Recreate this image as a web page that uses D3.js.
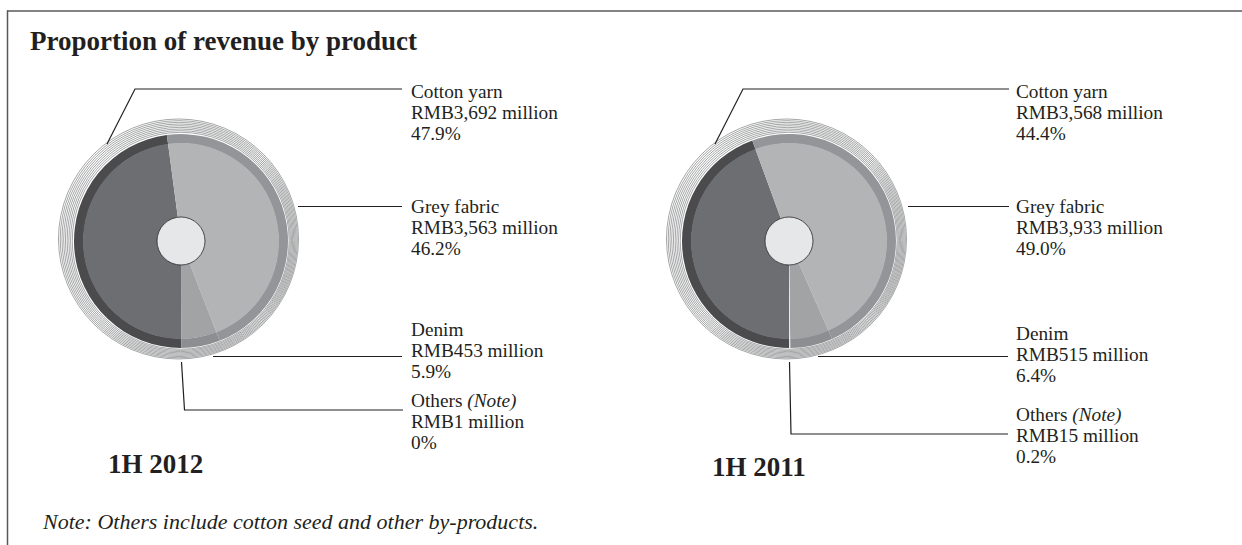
<!DOCTYPE html>
<html>
<head>
<meta charset="utf-8">
<script src="https://cdn.jsdelivr.net/npm/d3@7"></script>
<style>
  html, body { margin: 0; padding: 0; background: #ffffff; }
  svg { display: block; }
  text { font-family: "Liberation Serif", "Times New Roman", serif; fill: #231f20; }
</style>
</head>
<body>
<svg id="chart" width="1242" height="545"></svg>
<script>
// ---------------- DATA ----------------
const title = "Proportion of revenue by product";
const categories = ["Cotton yarn", "Grey fabric", "Denim", "Others"];
const revenue2012 = [3692, 3563, 453, 1];        // RMB million
const revenue2011 = [3568, 3933, 515, 15];       // RMB million
const share2012 = ["47.9%", "46.2%", "5.9%", "0%"];
const share2011 = ["44.4%", "49.0%", "6.4%", "0.2%"];
const periods = ["1H 2012", "1H 2011"];
const noteText = "Note: Others include cotton seed and other by-products.";

// ---------------- STYLE ----------------
const innerFill = ["#6d6e71", "#b3b4b6", "#a2a3a5", "#e8e8e9"];
const bandFill  = ["#4b4b4d", "#949598", "#8d8e91", "#e8e8e9"];
const ink = "#231f20";

const svg = d3.select("#chart");

// frame
svg.append("line").attr("x1", 7).attr("y1", 11).attr("x2", 1242).attr("y2", 11)
  .attr("stroke", "#58595b").attr("stroke-width", 1.5);
svg.append("line").attr("x1", 7.5).attr("y1", 10.5).attr("x2", 7.5).attr("y2", 545)
  .attr("stroke", "#58595b").attr("stroke-width", 1.5);

svg.append("text").attr("x", 30).attr("y", 50)
  .attr("font-size", 27).attr("font-weight", "bold").text(title);

svg.append("text").attr("x", 43).attr("y", 529)
  .attr("font-size", 22).attr("font-style", "italic").text(noteText);

// ---------------- LAYOUT ----------------
const charts = [
  {
    values: revenue2012, shares: share2012, period: periods[0],
    cx: 181, cy: 241, labelX: 411, periodX: 108, periodY: 473,
    baselines: [98, 213, 336, 407],
    leaders: [
      [[107, 144], [135, 89], [402, 89]],
      [[298, 206.5], [402, 206.5]],
      [[213, 356.5], [402, 356.5]],
      [[181.5, 362], [184.5, 410], [403, 410]]
    ]
  },
  {
    values: revenue2011, shares: share2011, period: periods[1],
    cx: 789, cy: 241, labelX: 1016, periodX: 712, periodY: 476,
    baselines: [98, 213, 340, 421],
    leaders: [
      [[715, 144], [743, 89], [1009, 89]],
      [[908, 206.5], [1009, 206.5]],
      [[818, 356.5], [1008, 356.5]],
      [[789.5, 362], [791, 434], [1008, 434]]
    ]
  }
];

const rHole = 24, rInner = 98, rOuter = 107, rRing = 120;
const pie = d3.pie().sort(null).startAngle(Math.PI).endAngle(3 * Math.PI).value(d => d);
const arcInner = d3.arc().innerRadius(rHole).outerRadius(rInner);
const arcBand = d3.arc().innerRadius(rInner - 0.5).outerRadius(rOuter);
const fmt = d3.format(",");
const lineGen = d3.line();

charts.forEach(c => {
  const g = svg.append("g");

  // striped outer ring (concentric hairlines, slightly offset up-left)
  const nRings = 9;
  const ringG = g.append("g");
  ringG.append("circle")
    .attr("cx", c.cx - 2.5).attr("cy", c.cy - 2).attr("r", rRing)
    .attr("fill", "#ffffff");
  d3.range(nRings).forEach(i => {
    const t = (i + 1) / nRings;
    ringG.append("circle")
      .attr("cx", c.cx - 2.5 * t).attr("cy", c.cy - 2 * t)
      .attr("r", rOuter + (rRing - rOuter) * t)
      .attr("fill", "none").attr("stroke", "#5a5b5d").attr("stroke-width", 0.55);
  });

  const pg = g.append("g").attr("transform", `translate(${c.cx},${c.cy})`);
  const arcs = pie(c.values);
  pg.selectAll("path.band").data(arcs).join("path")
    .attr("class", "band").attr("d", arcBand)
    .attr("fill", (d, i) => bandFill[i]);
  pg.selectAll("path.inner").data(arcs).join("path")
    .attr("class", "inner").attr("d", arcInner)
    .attr("fill", (d, i) => innerFill[i]);
  pg.append("circle").attr("r", rHole)
    .attr("fill", "#e6e7e8").attr("stroke", ink).attr("stroke-width", 0.8);

  // leader lines
  c.leaders.forEach(pts => {
    g.append("path").attr("d", lineGen(pts))
      .attr("fill", "none").attr("stroke", ink).attr("stroke-width", 1.2);
  });

  // labels
  categories.forEach((cat, i) => {
    const t = g.append("text").attr("font-size", 19.3);
    const y0 = c.baselines[i];
    t.append("tspan").attr("x", c.labelX).attr("y", y0).text(cat);
    if (cat === "Others") {
      t.append("tspan").text(" ");
      t.append("tspan").attr("font-style", "italic").text("(Note)");
    }
    t.append("tspan").attr("x", c.labelX).attr("y", y0 + 21)
      .text("RMB" + fmt(c.values[i]) + " million");
    t.append("tspan").attr("x", c.labelX).attr("y", y0 + 42)
      .text(c.shares[i]);
  });

  g.append("text").attr("x", c.periodX).attr("y", c.periodY)
    .attr("font-size", 27).attr("font-weight", "bold").text(c.period);
});
</script>
</body>
</html>
